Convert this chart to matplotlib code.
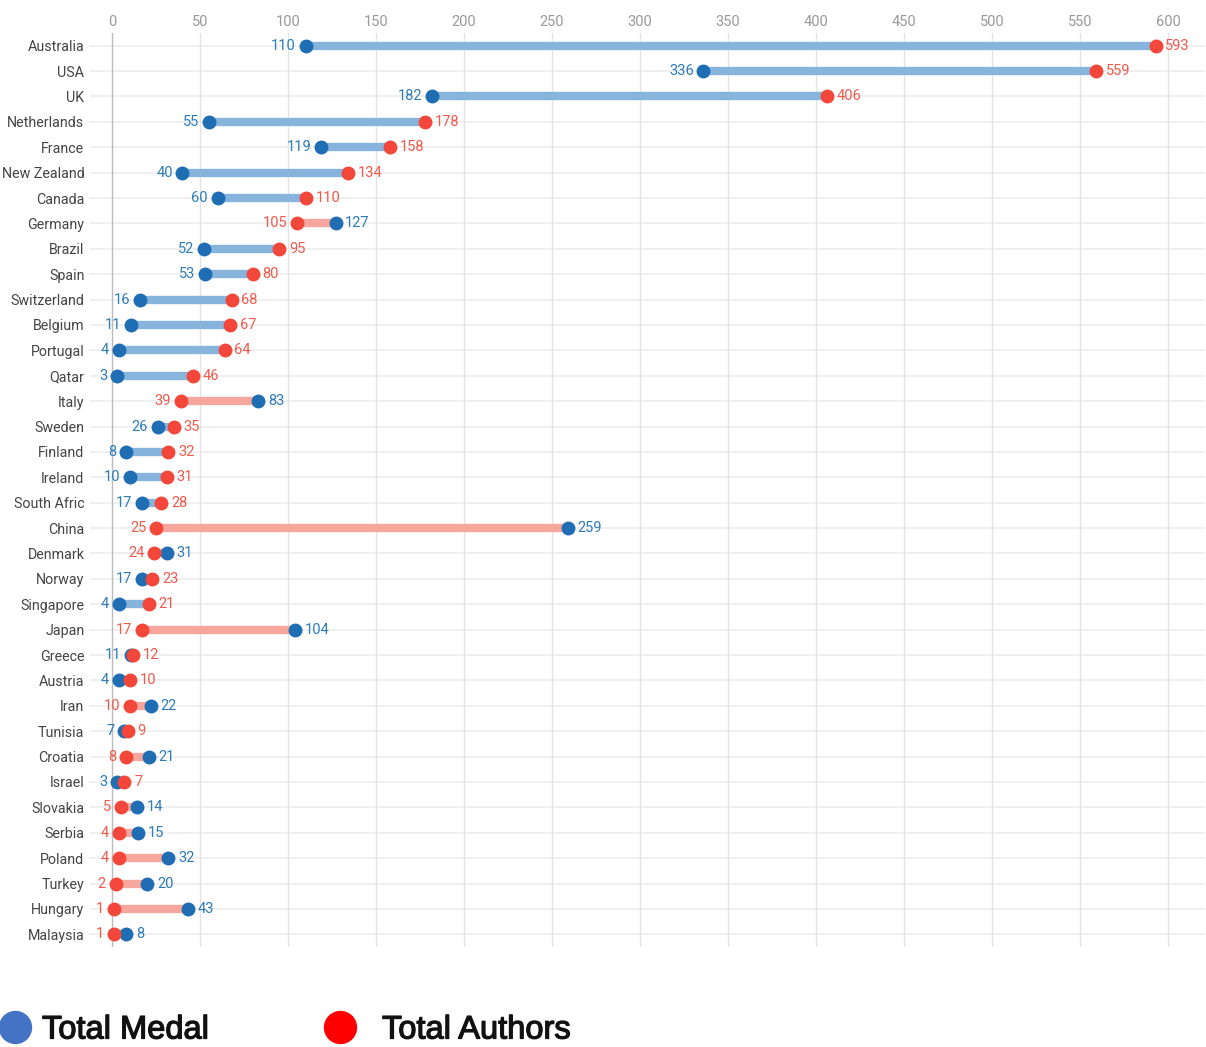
import matplotlib.pyplot as plt
import matplotlib.patheffects as pe
from matplotlib.lines import Line2D

countries = ['Australia', 'USA', 'UK', 'Netherlands', 'France', 'New Zealand',
             'Canada', 'Germany', 'Brazil', 'Spain', 'Switzerland', 'Belgium',
             'Portugal', 'Qatar', 'Italy', 'Sweden', 'Finland', 'Ireland',
             'South Afric', 'China', 'Denmark', 'Norway', 'Singapore', 'Japan',
             'Greece', 'Austria', 'Iran', 'Tunisia', 'Croatia', 'Israel',
             'Slovakia', 'Serbia', 'Poland', 'Turkey', 'Hungary', 'Malaysia']
medal = [110, 336, 182, 55, 119, 40, 60, 127, 52, 53, 16, 11, 4, 3, 83, 26, 8, 10,
         17, 259, 31, 17, 4, 104, 11, 4, 22, 7, 21, 3, 14, 15, 32, 20, 43, 8]
authors = [593, 559, 406, 178, 158, 134, 110, 105, 95, 80, 68, 67, 64, 46, 39, 35,
           32, 31, 28, 25, 24, 23, 21, 17, 12, 10, 10, 9, 8, 7, 5, 4, 4, 2, 1, 1]
xticks = list(range(0, 601, 50))

font = 'Roboto'
blue_dot = '#1f6db3'
red_dot = '#f2473a'
blue_bar = '#86b4dc'
red_bar = '#f6a69c'
blue_txt = '#2d7bb8'
red_txt = '#ef5a4c'

W, H = 1206, 1047
fig = plt.figure(figsize=(W / 100, H / 100), dpi=100)
ax = fig.add_axes([90 / W, 1 - 947 / H, 1115 / W, 914 / H])
ax.set_xlim(-12.5, 621)
ax.set_ylim(len(countries) - 0.5, -0.5)

for i in range(len(countries)):
    ax.axhline(i, color='#eeeeee', lw=1.2, zorder=0)
for t in xticks:
    ax.axvline(t, color='#bbbbbb' if t == 0 else '#e3e3e3', lw=1, zorder=0)

for i, (m, a) in enumerate(zip(medal, authors)):
    bar = blue_bar if a >= m else red_bar
    ax.plot([m, a], [i, i], color=bar, lw=6, solid_capstyle='butt', zorder=2)
    ax.plot(m, i, 'o', color=blue_dot, ms=9, zorder=3)
    ax.plot(a, i, 'o', color=red_dot, ms=9, zorder=4)
    lo, hi = min(m, a), max(m, a)
    lo_c = blue_txt if m <= a else red_txt
    hi_c = red_txt if m <= a else blue_txt
    ax.annotate(str(lo), (lo, i), xytext=(-7, 0), textcoords='offset points',
                ha='right', va='center', color=lo_c, fontsize=10.5, family=font)
    ax.annotate(str(hi), (hi, i), xytext=(7, 0), textcoords='offset points',
                ha='left', va='center', color=hi_c, fontsize=10.5, family=font)

ax.set_yticks(range(len(countries)))
ax.set_yticklabels(countries, fontsize=10.3, color='#444444', family=font)
ax.set_xticks(xticks)
ax.set_xticklabels([str(t) for t in xticks], fontsize=10.5, color='#999999', family=font)
ax.xaxis.tick_top()
ax.tick_params(length=0, axis='both')
ax.tick_params(axis='x', pad=3)
ax.tick_params(axis='y', pad=4)
for s in ax.spines.values():
    s.set_visible(False)

# legend drawn by hand at the bottom
legend_items = [('Total Medal', '#4472c4', 15, 42), ('Total Authors', '#ff0000', 340, 382)]
for label, col, cx, tx in legend_items:
    fig.add_artist(Line2D([cx / W], [1 - 1027 / H], transform=fig.transFigure,
                          marker='o', ms=23, color=col, ls='none'))
    fig.text(tx / W, 1 - 1030 / H, label, fontsize=23.5, family='Liberation Sans',
             color='#111111', va='center', ha='left',
             path_effects=[pe.withStroke(linewidth=0.9, foreground='#111111')])

fig.savefig('out.png', dpi=100, facecolor='white')
